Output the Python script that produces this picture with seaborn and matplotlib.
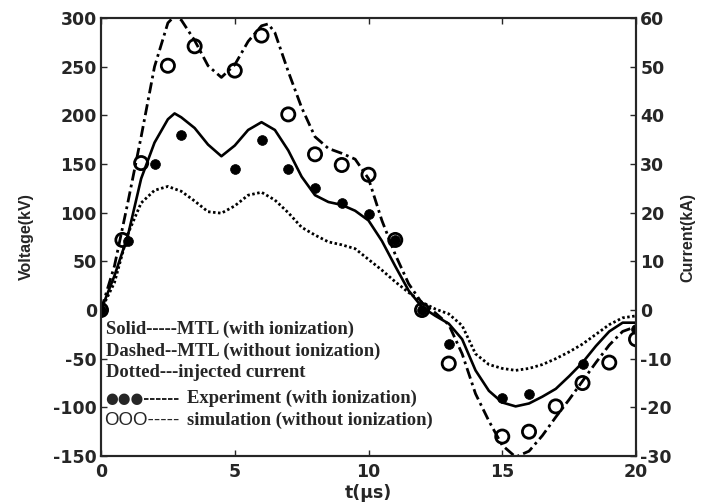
import numpy as np
import pandas as pd
import matplotlib
matplotlib.use("Agg")
import matplotlib.pyplot as plt
import seaborn as sns

# ---- data ----
t_solid = [0, 0.5, 1.0, 1.5, 2.0, 2.5, 2.75, 3.0, 3.5, 4.0, 4.5, 5.0, 5.5, 6.0, 6.5,
           7.0, 7.5, 8.0, 8.5, 9.0, 9.5, 10.0, 10.5, 11.0, 11.5, 12.0, 12.5, 13.0,
           13.5, 14.0, 14.5, 15.0, 15.5, 16.0, 16.5, 17.0, 17.5, 18.0, 18.5, 19.0,
           19.5, 20.0]
v_solid = [0, 35, 76, 135, 172, 196, 202, 198, 187, 170, 158, 169, 185, 193, 185,
           164, 137, 118, 111, 108, 102, 92, 71, 45, 20, 3, -6, -14,
           -30, -62, -83, -95, -99, -96, -89, -81, -68, -54, -37, -22,
           -13, -13]

t_dash = [0, 0.5, 1.0, 1.5, 2.0, 2.5, 2.75, 3.0, 3.5, 4.0, 4.5, 5.0, 5.5, 6.0, 6.25,
          6.5, 7.0, 7.5, 8.0, 8.5, 9.0, 9.5, 10.0, 10.5, 11.0, 11.5, 12.0, 12.5,
          13.0, 13.5, 14.0, 14.5, 15.0, 15.5, 16.0, 16.5, 17.0, 17.5, 18.0, 18.5,
          19.0, 19.5, 20.0]
v_dash = [0, 45, 110, 178, 250, 295, 302, 298, 277, 251, 239, 252, 276, 292, 294,
          285, 245, 208, 178, 166, 161, 155, 135, 92, 57, 27, 7, -3,
          -15, -45, -86, -114, -139, -151, -145, -129, -110, -92, -73, -54,
          -36, -22, -17]

t_dot = [0, 0.5, 1.0, 1.5, 2.0, 2.5, 3.0, 3.5, 4.0, 4.5, 5.0, 5.5, 6.0, 6.5, 7.0,
         7.5, 8.0, 8.5, 9.0, 9.5, 10.0, 10.5, 11.0, 11.5, 12.0, 12.5, 13.0, 13.5,
         14.0, 14.5, 15.0, 15.5, 16.0, 16.5, 17.0, 17.5, 18.0, 18.5, 19.0, 19.5, 20.0]
i_dot = [0, 5.6, 15.6, 22.0, 24.6, 25.4, 24.4, 22.4, 20.2, 19.9, 21.4, 23.6, 24.2, 22.6, 20.0,
         17.0, 15.4, 14.0, 13.4, 12.6, 10.4, 8.2, 5.8, 3.6, 1.6, 0.2, -0.8, -3.2,
         -9.0, -11.2, -12.0, -12.4, -12.0, -11.2, -10.0, -8.6, -7.0, -5.0, -3.0, -1.6, -1.2]

t_exp = [0, 1, 2, 3, 5, 6, 7, 8, 9, 10, 11, 12, 13, 15, 16, 18, 20]
v_exp = [0, 71, 150, 180, 145, 175, 145, 125, 110, 99, 72, 0, -35, -90, -86, -55, -20]

t_sim = [0, 0.8, 1.5, 2.5, 3.5, 5, 6, 7, 8, 9, 10, 11, 12, 13, 15, 16, 17, 18, 19, 20]
v_sim = [0, 72, 151, 251, 271, 246, 282, 201, 160, 149, 139, 72, 0, -55, -130, -125,
         -99, -75, -54, -30]

x_ticks = [0, 5, 10, 15, 20]
v_ticks = [-150, -100, -50, 0, 50, 100, 150, 200, 250, 300]
i_ticks = [-30, -20, -10, 0, 10, 20, 30, 40, 50, 60]

note_lines = ["Solid-----MTL (with ionization)",
              "Dashed--MTL (without ionization)",
              "Dotted---injected current"]
marker_keys = ["\u25cf\u25cf\u25cf------", "OOO-----"]
marker_texts = ["Experiment (with ionization)", "simulation (without ionization)"]

# ---- figure ----
sns.set_style("ticks")
plt.rcParams["font.family"] = ["DejaVu Sans"]
plt.rcParams["font.weight"] = "bold"

fig = plt.figure(figsize=(7.01, 5.04), dpi=100)
ax = fig.add_axes([0.1441, 0.0952, 0.7632, 0.869])
ax2 = ax.twinx()

df_s = pd.DataFrame({"t": t_solid, "v": v_solid})
df_d = pd.DataFrame({"t": t_dash, "v": v_dash})
df_i = pd.DataFrame({"t": t_dot, "i": i_dot})
df_e = pd.DataFrame({"t": t_exp, "v": v_exp})
df_m = pd.DataFrame({"t": t_sim, "v": v_sim})

sns.lineplot(data=df_s, x="t", y="v", ax=ax, color="black", lw=1.9, sort=False,
             estimator=None)
sns.lineplot(data=df_d, x="t", y="v", ax=ax, color="black", lw=2.0, sort=False,
             estimator=None)
ax.lines[-1].set_dashes([4.0, 1.5, 1.0, 1.5])
sns.lineplot(data=df_i, x="t", y="i", ax=ax2, color="black", lw=2.0, sort=False,
             estimator=None)
ax2.lines[-1].set_dashes([0.9, 0.9])

sns.scatterplot(data=df_m, x="t", y="v", ax=ax, marker="o", s=90,
                facecolor="none", edgecolor="black", linewidth=2.0, zorder=5)
sns.scatterplot(data=df_e, x="t", y="v", ax=ax, marker="o", s=50,
                color="black", edgecolor="black", linewidth=0.5, zorder=6)

ax.set_xlim(0, 20)
ax.set_ylim(-150, 300)
ax2.set_ylim(-30, 60)
ax.set_xticks(x_ticks)
ax.set_yticks(v_ticks)
ax2.set_yticks(i_ticks)
tick_font = dict(fontsize=12.5, fontweight="bold", family="DejaVu Sans")
ax.set_xticklabels([str(v) for v in x_ticks], **tick_font)
ax.set_yticklabels([str(v) for v in v_ticks], **tick_font)
ax2.set_yticklabels([str(v) for v in i_ticks], **tick_font)

ax.set_xlabel("t(\u03bcs)", fontsize=12.5, fontweight="bold", family="DejaVu Sans",
              labelpad=2)
ax.set_ylabel("Voltage(kV)", fontsize=11.5, fontweight="bold",
              family="Liberation Sans", labelpad=14)
ax2.set_ylabel("Current(kA)", fontsize=11.5, fontweight="bold",
               family="Liberation Sans", labelpad=6)

ax.tick_params(direction="in", length=4, width=1, top=True, right=False, pad=3)
ax.tick_params(axis="x", pad=5)
ax2.tick_params(direction="in", length=4, width=1, pad=3)
for a in (ax, ax2):
    for s in a.spines.values():
        s.set_linewidth(1.5)
        s.set_visible(True)

serif = ["Liberation Serif", "DejaVu Serif"]
ys = [-19.5, -42, -64]
for txt, y in zip(note_lines, ys):
    ax.text(0.17, y, txt, fontsize=13.4, fontweight="bold", family=serif,
            va="center", ha="left", zorder=10)
ax.text(0.15, -90.5, marker_keys[0], fontsize=10.5, fontweight="bold",
        family=["DejaVu Sans"], va="center", ha="left", zorder=10)
ax.text(0.12, -113, marker_keys[1], fontsize=13.5, fontweight="normal",
        family=["Liberation Sans", "DejaVu Sans"], va="center", ha="left", zorder=10)
ax.text(3.22, -90.5, marker_texts[0], fontsize=13.4, fontweight="bold", family=serif,
        va="center", ha="left", zorder=10)
ax.text(3.22, -113, marker_texts[1], fontsize=13.4, fontweight="bold", family=serif,
        va="center", ha="left", zorder=10)

fig.savefig("out.png", dpi=100)
